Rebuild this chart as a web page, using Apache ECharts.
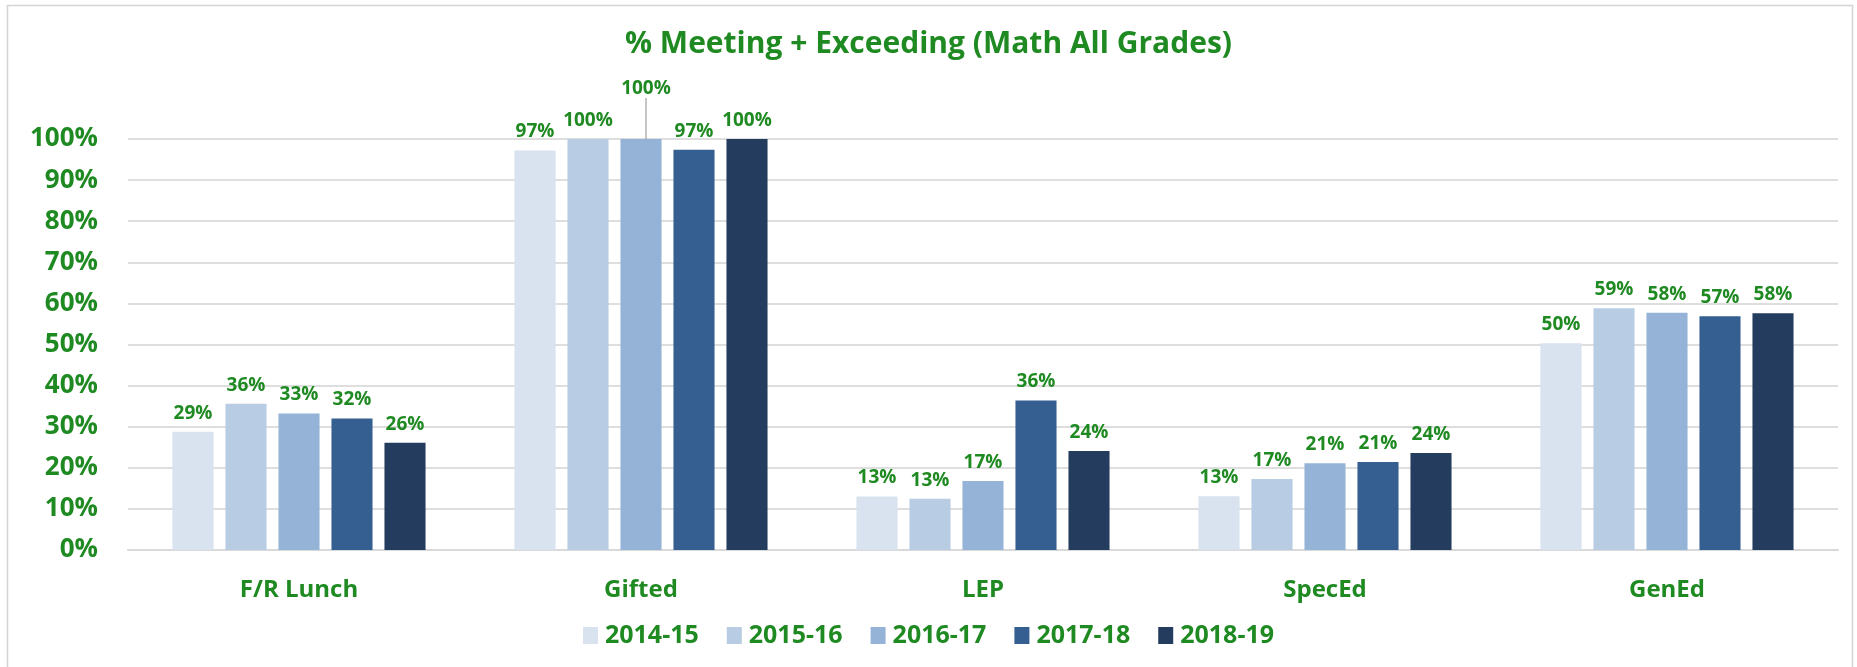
<!DOCTYPE html>
<html>
<head>
<meta charset="utf-8">
<script src="https://cdn.jsdelivr.net/npm/echarts@6/dist/echarts.min.js"></script>
<style>
  html, body { margin: 0; padding: 0; background: #fff; }
  #chart { width: 1857px; height: 667px; }
</style>
</head>
<body>
<div id="chart"></div>
<script>
// data
var categories = ['F/R Lunch', 'Gifted', 'LEP', 'SpecEd', 'GenEd'];
var years = ['2014-15', '2015-16', '2016-17', '2017-18', '2018-19'];
var y2014 = [28.8, 97.2, 13.0, 13.1, 50.3];
var y2015 = [35.6, 100, 12.5, 17.3, 58.8];
var y2016 = [33.2, 100, 16.8, 21.1, 57.7];
var y2017 = [32.0, 97.4, 36.4, 21.4, 56.9];
var y2018 = [26.1, 100, 24.1, 23.6, 57.6];
var yTicks = [0, 10, 20, 30, 40, 50, 60, 70, 80, 90, 100];

var colors = ['#d9e2ef', '#b8cce4', '#95b3d7', '#365f91', '#243d5e'];
var green = '#1f8a22';
var font = 'Open Sans';

var seriesValues = [y2014, y2015, y2016, y2017, y2018];

var chart = echarts.init(document.getElementById('chart'));

var series = seriesValues.map(function (vals, s) {
    var data = vals.map(function (v, i) {
        // Gifted 2016-17 label is pushed up with a leader line
        if (s === 2 && i === 1) {
            return {
                value: v,
                labelLine: { show: true, lineStyle: { color: '#8c8c8c', width: 1 } }
            };
        }
        return v;
    });
    return {
        name: years[s],
        type: 'bar',
        data: data,
        barGap: '29%',
        barCategoryGap: '26%',
        itemStyle: { color: colors[s] },
        label: {
            show: true,
            position: 'top',
            distance: 9,
            color: green,
            fontFamily: font,
            fontWeight: 'bold',
            fontSize: 19,
            formatter: function (p) { return Math.round(p.value) + '%'; }
        },
        labelLayout: s === 2 ? function (p) {
            if (p.dataIndex === 1) return { dx: 5, dy: -32 };
            return {};
        } : undefined
    };
});

var option = {
    backgroundColor: '#fff',
    animation: false,
    title: {
        text: '% Meeting + Exceeding (Math All Grades)',
        left: 'center',
        top: 24,
        textStyle: { color: green, fontFamily: font, fontWeight: 'bold', fontSize: 30 }
    },
    legend: {
        data: years,
        left: 'center',
        top: 618,
        icon: 'rect',
        itemWidth: 15,
        itemHeight: 17,
        itemGap: 28,
        textStyle: { color: green, fontFamily: font, fontWeight: 'bold', fontSize: 25, padding: [0, 0, 0, 2] }
    },
    grid: { left: 128, right: 19, top: 139, bottom: 117 },
    xAxis: {
        type: 'category',
        data: categories,
        axisLine: { lineStyle: { color: '#d9d9d9', width: 2 } },
        axisTick: { show: false },
        axisLabel: { margin: 28, color: green, fontFamily: font, fontWeight: 'bold', fontSize: 24 }
    },
    yAxis: {
        type: 'value',
        min: yTicks[0],
        max: yTicks[yTicks.length - 1],
        interval: 10,
        axisLine: { show: false },
        axisTick: { show: false },
        splitLine: { lineStyle: { color: '#dedede', width: 2 } },
        axisLabel: {
            margin: 30,
            color: green,
            fontFamily: font,
            fontWeight: 'bold',
            fontSize: 26,
            formatter: '{value}%'
        }
    },
    graphic: [{
        type: 'rect',
        shape: { x: 7.5, y: 5.5, width: 1845, height: 700 },
        style: { fill: null, stroke: '#d4d4d4', lineWidth: 1.5 },
        silent: true
    }],
    series: series
};

chart.setOption(option);
</script>
</body>
</html>
